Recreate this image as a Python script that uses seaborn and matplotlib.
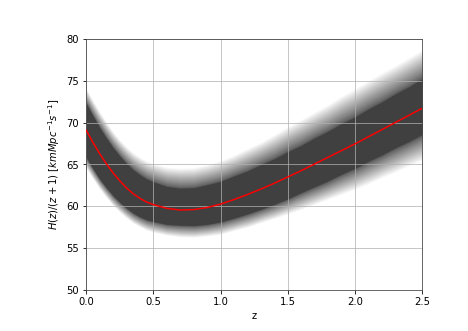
import numpy as np
import pandas as pd
import matplotlib
matplotlib.use("Agg")
import matplotlib.pyplot as plt
import seaborn as sns

# redshift nodes and the mean H(z)/(1+z) curve
z = [0.0, 0.05, 0.1, 0.15, 0.2, 0.25, 0.3, 0.35, 0.4, 0.45, 0.5, 0.6, 0.7,
     0.8, 0.9, 1.0, 1.1, 1.2, 1.3, 1.4, 1.5, 1.6, 1.7, 1.8, 1.9, 2.0, 2.1,
     2.2, 2.3, 2.4, 2.5]
h_mean = [69.1, 67.65, 66.3, 65.1, 64.0, 63.05, 62.2, 61.5, 60.95, 60.5,
          60.2, 59.75, 59.55, 59.6, 59.85, 60.25, 60.8, 61.4, 62.05, 62.75,
          63.5, 64.25, 65.05, 65.85, 66.65, 67.45, 68.3, 69.15, 70.0, 70.85,
          71.7]

# spread of the sample curves: dense core and faint outer envelope
core_up = [3.2, 3.15, 3.1, 3.05, 3.0, 2.95, 2.9, 2.85, 2.8, 2.75, 2.7, 2.6,
           2.6, 2.6, 2.7, 2.7, 2.8, 2.8, 2.9, 2.9, 3.0, 3.0, 3.1, 3.1, 3.2,
           3.2, 3.3, 3.3, 3.4, 3.4, 3.5]
core_dn = [3.2, 3.1, 3.0, 2.85, 2.7, 2.55, 2.4, 2.3, 2.2, 2.1, 2.0, 1.9,
           1.8, 1.9, 2.0, 2.1, 2.2, 2.3, 2.4, 2.5, 2.6, 2.6, 2.7, 2.8, 2.8,
           2.9, 2.9, 3.0, 3.0, 3.1, 3.1]
outer_up = [5.0, 5.0, 5.0, 4.95, 4.9, 4.9, 4.9, 4.9, 4.9, 4.9, 4.9, 4.9,
            5.0, 5.0, 5.1, 5.2, 5.3, 5.5, 5.6, 5.8, 6.0, 6.1, 6.2, 6.3, 6.5,
            6.6, 6.7, 6.8, 6.8, 6.9, 7.0]
outer_dn = [4.5, 4.35, 4.2, 4.05, 3.9, 3.75, 3.6, 3.5, 3.4, 3.35, 3.3, 3.2,
            3.2, 3.3, 3.4, 3.6, 3.7, 3.9, 4.0, 4.2, 4.4, 4.6, 4.8, 5.0, 5.2,
            5.4, 5.6, 5.7, 5.9, 6.0, 6.2]

df = pd.DataFrame({"z": z, "H": h_mean})
zz = np.array(z)
hm = np.array(h_mean)
cu, cd = np.array(core_up), np.array(core_dn)
ou, od = np.array(outer_up), np.array(outer_dn)

fig, ax = plt.subplots(figsize=(6.5, 4.6), dpi=72)
fig.subplots_adjust(left=0.184, right=0.902, top=0.882, bottom=0.124)

band = "#404040"
# faint halo layers, many close to the core and few far out
n = 60
for t in np.linspace(0, 1, n) ** 2.5:
    ax.fill_between(zz, hm - cd - t * (od - cd), hm + cu + t * (ou - cu),
                    color=band, alpha=0.035, linewidth=0)
ax.fill_between(zz, hm - cd, hm + cu, color=band, linewidth=0)

sns.lineplot(data=df, x="z", y="H", color="red", linewidth=1.5, ax=ax, zorder=3)

ax.grid(True, color="#b0b0b0", linewidth=0.9, alpha=0.8)
ax.set_xlim(0, 2.5)
ax.set_ylim(50, 80)
ax.set_xticks([0.0, 0.5, 1.0, 1.5, 2.0, 2.5])
ax.set_yticks([50, 55, 60, 65, 70, 75, 80])
ax.set_xlabel("z")
ax.set_ylabel(r"$H(z)/(z+1)$ $[kmMpc^{-1}s^{-1}]$")
for s in ax.spines.values():
    s.set_color("#444444")

fig.savefig("out.png", dpi=72)
